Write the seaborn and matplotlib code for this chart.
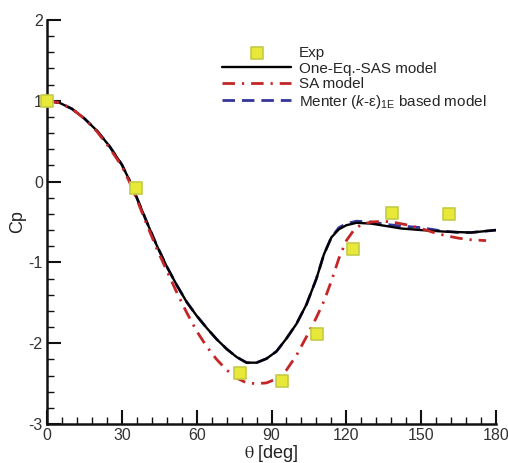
import numpy as np
import pandas as pd
import seaborn as sns
import matplotlib.pyplot as plt
from matplotlib.ticker import MultipleLocator

# experimental points
exp_theta = [0, 35.7, 77.4, 94.2, 108.3, 122.7, 138.3, 161.2]
exp_cp = [1.0, -0.08, -2.37, -2.47, -1.88, -0.84, -0.39, -0.40]

# One-Eq.-SAS model
sas_theta = [0, 5, 10, 15, 20, 25, 30, 33, 36, 40, 44, 48, 52, 56, 60, 64, 68, 72, 76, 80,
             84, 88, 92, 96, 100, 104, 108, 111, 114, 117, 120, 124, 130, 136, 142, 150, 160, 170, 180]
sas_cp = [1.00, 0.975, 0.90, 0.78, 0.63, 0.44, 0.21, 0.02, -0.20, -0.50, -0.79, -1.05, -1.28, -1.49,
          -1.66, -1.81, -1.95, -2.07, -2.17, -2.24, -2.24, -2.19, -2.10, -1.94, -1.76, -1.52, -1.20,
          -0.90, -0.69, -0.59, -0.54, -0.51, -0.52, -0.55, -0.58, -0.60, -0.62, -0.63, -0.60]

# SA model
sa_theta = [0, 5, 10, 15, 20, 25, 30, 33, 36, 40, 44, 48, 52, 56, 60, 64, 68, 72, 76, 80, 84, 88,
            92, 96, 100, 104, 108, 111, 114, 117, 120, 123, 126, 130, 135, 140, 145, 150, 155, 160,
            165, 170, 176]
sa_cp = [1.00, 0.975, 0.90, 0.78, 0.62, 0.42, 0.19, 0.00, -0.22, -0.53, -0.83, -1.10, -1.37, -1.62,
         -1.85, -2.04, -2.20, -2.33, -2.43, -2.49, -2.50, -2.49, -2.44, -2.33, -2.15, -1.92, -1.68,
         -1.48, -1.23, -0.95, -0.73, -0.60, -0.53, -0.50, -0.49, -0.51, -0.54, -0.58, -0.63, -0.67,
         -0.70, -0.72, -0.73]

# Menter (k-eps)1E based model
men_theta = [0, 5, 10, 15, 20, 25, 30, 33, 36, 40, 44, 48, 52, 56, 60, 64, 68, 72, 76, 80,
             84, 88, 92, 96, 100, 104, 108, 111, 114, 117, 120, 124, 130, 136, 142, 150, 158, 165, 170, 180]
men_cp = [1.00, 0.975, 0.90, 0.78, 0.63, 0.44, 0.21, 0.02, -0.20, -0.50, -0.79, -1.05, -1.28, -1.49,
          -1.66, -1.81, -1.95, -2.07, -2.17, -2.24, -2.24, -2.19, -2.10, -1.94, -1.76, -1.52, -1.20,
          -0.90, -0.69, -0.57, -0.52, -0.49, -0.50, -0.53, -0.55, -0.57, -0.61, -0.63, -0.63, -0.60]

sns.set_style('ticks')
plt.rcParams['font.family'] = ['Liberation Sans', 'DejaVu Sans']
plt.rcParams['mathtext.fontset'] = 'custom'
plt.rcParams['mathtext.rm'] = 'Liberation Sans'
plt.rcParams['mathtext.it'] = 'Liberation Sans:italic'
plt.rcParams['axes.unicode_minus'] = False

fig = plt.figure(figsize=(5.08, 4.63), dpi=100)
ax = fig.add_axes([0.0925, 0.084, 0.884, 0.873])

sns.lineplot(x=men_theta, y=men_cp, ax=ax, color='#34349a', lw=2.0,
             label=r'Menter ($k$-ε)$_{\mathregular{1E}}$ based model', zorder=2, sort=False)
ax.lines[-1].set_dashes((4.5, 2.5))
sns.lineplot(x=sas_theta, y=sas_cp, ax=ax, color='black', lw=1.7,
             label='One-Eq.-SAS model', zorder=3, sort=False)
sns.lineplot(x=sa_theta, y=sa_cp, ax=ax, color='#c42628', lw=2.0,
             label='SA model', zorder=4, sort=False)
ax.lines[-1].set_dashes((4.5, 2.5, 0.8, 2.5))
sns.scatterplot(x=exp_theta, y=exp_cp, ax=ax, marker='s', s=80, color='#e8e838',
                edgecolor='#c4cc46', linewidth=1.2, label='Exp', zorder=5, clip_on=False)

handles, labels = ax.get_legend_handles_labels()
order = [3, 1, 2, 0]
ax.legend([handles[i] for i in order], [labels[i] for i in order],
          loc='upper left', bbox_to_anchor=(0.39, 0.935), frameon=False,
          fontsize=11, handlelength=4.5, handletextpad=0.5, labelspacing=0.1,
          borderpad=0, borderaxespad=0)

ax.set_xlim(0, 180)
ax.set_ylim(-3, 2)
ax.xaxis.set_major_locator(MultipleLocator(30))
ax.xaxis.set_minor_locator(MultipleLocator(6))
ax.yaxis.set_major_locator(MultipleLocator(1))
ax.yaxis.set_minor_locator(MultipleLocator(0.2))

ax.spines['top'].set_visible(False)
ax.spines['right'].set_visible(False)
for s in ['left', 'bottom']:
    ax.spines[s].set_linewidth(1.8)
    ax.spines[s].set_color('#111111')
ax.tick_params(which='major', direction='in', length=10, width=1.5, labelsize=11.5,
               labelcolor='#333333', color='#111111', pad=3)
ax.tick_params(which='minor', direction='in', length=5, width=1.0, color='#111111')

ax.set_xlabel(r'$\mathrm{\theta}$ [deg]', fontsize=13, color='#222222', labelpad=0,
              math_fontfamily='stix')
ax.set_ylabel('Cp', fontsize=13, color='#222222', labelpad=2)

fig.savefig('out.png', dpi=100)
